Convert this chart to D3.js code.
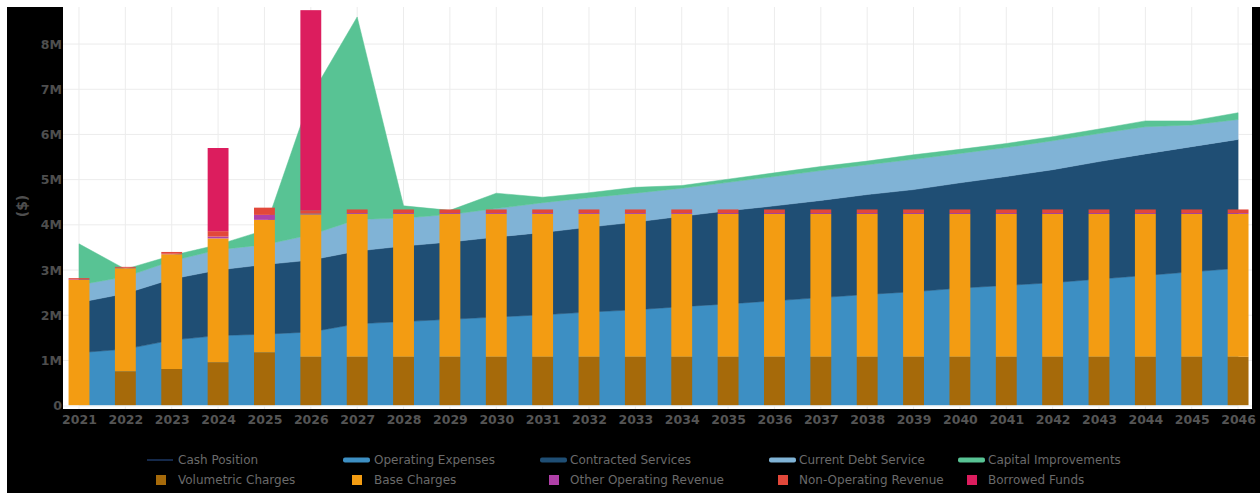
<!DOCTYPE html>
<html><head><meta charset="utf-8">
<script src="https://cdn.jsdelivr.net/npm/d3@7/dist/d3.min.js"></script>
<style>html,body{margin:0;padding:0;background:#fff;} svg{display:block}</style>
</head><body><svg id="chart" width="1260" height="493"></svg>
<script>
// ---------- DATA (values in $) ----------
const years = [2021,2022,2023,2024,2025,2026,2027,2028,2029,2030,2031,2032,2033,2034,2035,2036,2037,2038,2039,2040,2041,2042,2043,2044,2045,2046];
const operatingExpenses   = [1.17,1.25,1.45,1.55,1.58,1.63,1.81,1.86,1.91,1.96,2.01,2.07,2.12,2.19,2.25,2.32,2.39,2.46,2.52,2.60,2.66,2.72,2.80,2.88,2.96,3.04].map(v=>v*1e6);
const contractedServices  = [1.11,1.23,1.35,1.45,1.54,1.59,1.61,1.67,1.71,1.77,1.82,1.88,1.94,2.00,2.06,2.10,2.15,2.21,2.26,2.33,2.41,2.50,2.60,2.69,2.77,2.85].map(v=>v*1e6);
const currentDebtService  = [0.39,0.37,0.40,0.45,0.44,0.56,0.70,0.62,0.61,0.63,0.66,0.65,0.64,0.62,0.63,0.65,0.66,0.66,0.67,0.65,0.64,0.64,0.62,0.60,0.48,0.44].map(v=>v*1e6);
const capitalImprovements = [0.91,0.17,0.12,0.11,0.32,3.07,4.48,0.27,0.09,0.34,0.12,0.11,0.13,0.06,0.07,0.08,0.09,0.08,0.10,0.09,0.09,0.09,0.10,0.13,0.09,0.15].map(v=>v*1e6);
const volumetricCharges   = [0.00,0.76,0.81,0.96,1.18,1.08,1.08,1.08,1.08,1.08,1.08,1.08,1.08,1.08,1.08,1.08,1.08,1.08,1.08,1.08,1.08,1.08,1.08,1.08,1.08,1.08].map(v=>v*1e6);
const baseCharges         = [2.78,2.28,2.54,2.74,2.93,3.15,3.16,3.16,3.16,3.16,3.16,3.16,3.16,3.16,3.16,3.16,3.16,3.16,3.16,3.16,3.16,3.16,3.16,3.16,3.16,3.16].map(v=>v*1e6);
const otherOperatingRevenue = [0.01,0.01,0.01,0.04,0.11,0.02,0.02,0.02,0.02,0.02,0.02,0.02,0.02,0.02,0.02,0.02,0.02,0.02,0.02,0.02,0.02,0.02,0.02,0.02,0.02,0.02].map(v=>v*1e6);
const nonOperatingRevenue = [0.03,0.02,0.04,0.12,0.16,0.07,0.08,0.08,0.08,0.08,0.08,0.08,0.08,0.08,0.08,0.08,0.08,0.08,0.08,0.08,0.08,0.08,0.08,0.08,0.08,0.08].map(v=>v*1e6);
const borrowedFunds       = [0,0,0,1.84,0,4.43,0,0,0,0,0,0,0,0,0,0,0,0,0,0,0,0,0,0,0,0].map(v=>v*1e6);
const yTickValues = [0,1e6,2e6,3e6,4e6,5e6,6e6,7e6,8e6];
const yTickLabels = ["0","1M","2M","3M","4M","5M","6M","7M","8M"];
const yAxisTitle = "($)";

const areaKeys = ["Operating Expenses","Contracted Services","Current Debt Service","Capital Improvements"];
const areaValues = [operatingExpenses, contractedServices, currentDebtService, capitalImprovements];
const barKeys = ["Volumetric Charges","Base Charges","Other Operating Revenue","Non-Operating Revenue","Borrowed Funds"];
const barValues = [volumetricCharges, baseCharges, otherOperatingRevenue, nonOperatingRevenue, borrowedFunds];
const legendRow1 = ["Cash Position","Operating Expenses","Contracted Services","Current Debt Service","Capital Improvements"];
const legendRow2 = ["Volumetric Charges","Base Charges","Other Operating Revenue","Non-Operating Revenue","Borrowed Funds"];

// ---------- STYLE ----------
const colors = {
  "Cash Position":"#15294a",
  "Operating Expenses":"#3d8fc3",
  "Contracted Services":"#1f4e74",
  "Current Debt Service":"#80b3d6",
  "Capital Improvements":"#58c394",
  "Volumetric Charges":"#a66a0a",
  "Base Charges":"#f39c12",
  "Other Operating Revenue":"#b040a8",
  "Non-Operating Revenue":"#e2483a",
  "Borrowed Funds":"#dc1d5e"
};
const P = {left:63, right:1252, top:7, bottom:409};
const FONT = "'DejaVu Sans', Verdana, sans-serif";

const svg = d3.select("#chart");
svg.append("rect").attr("x",7).attr("y",7).attr("width",1253).attr("height",486).attr("fill","#000");
svg.append("rect").attr("x",P.left).attr("y",0).attr("width",P.right-P.left).attr("height",P.bottom).attr("fill","#fff");

const x = d3.scaleLinear().domain([2020.655, 2046.3]).range([P.left, P.right]);
const y = d3.scaleLinear().domain([-0.075e6, 8.82e6]).range([P.bottom, P.top]);

// grid
const g = svg.append("g");
g.selectAll("line.vg").data(years).join("line")
  .attr("x1",d=>x(d)).attr("x2",d=>x(d)).attr("y1",P.top).attr("y2",P.bottom)
  .attr("stroke","#ececec").attr("stroke-width",1);
g.selectAll("line.hg").data(yTickValues.slice(1)).join("line")
  .attr("x1",P.left).attr("x2",P.right).attr("y1",d=>y(d)).attr("y2",d=>y(d))
  .attr("stroke","#ececec").attr("stroke-width",1);

// tables
const areaTable = years.map((yr,i)=>{const o={year:yr}; areaKeys.forEach((k,j)=>o[k]=areaValues[j][i]); return o;});
const barTable  = years.map((yr,i)=>{const o={year:yr}; barKeys.forEach((k,j)=>o[k]=barValues[j][i]); return o;});

const areaStack = d3.stack().keys(areaKeys)(areaTable);
const area = d3.area().x(d=>x(d.data.year)).y0(d=>y(d[0])).y1(d=>y(d[1]));
svg.append("g").selectAll("path").data(areaStack).join("path")
  .attr("d",area).attr("fill",d=>colors[d.key]).attr("stroke",d=>colors[d.key]).attr("stroke-width",0.5);

const barStack = d3.stack().keys(barKeys)(barTable);
const bw = 0.45;
svg.append("g").selectAll("g").data(barStack).join("g")
  .attr("fill",d=>colors[d.key])
  .selectAll("rect").data(d=>d.filter(s=>s[1]-s[0]>0)).join("rect")
  .attr("x",d=>x(d.data.year-bw/2)).attr("width",d=>x(d.data.year+bw/2)-x(d.data.year-bw/2))
  .attr("y",d=>y(d[1])).attr("height",d=>y(d[0])-y(d[1]));

// zero line
svg.append("line").attr("x1",P.left).attr("x2",P.right).attr("y1",y(0)+0.5).attr("y2",y(0)+0.5)
  .attr("stroke","#f4f4f4").attr("stroke-width",1.5);

// axes
const xAxis = d3.axisBottom(x).tickValues(years).tickFormat(d3.format("d")).tickSize(0).tickPadding(6);
const xg = svg.append("g").attr("transform",`translate(0,${P.bottom})`).call(xAxis);
xg.select(".domain").remove();
xg.selectAll("text").attr("fill","#555").style("font-family",FONT).style("font-size","12.5px").style("font-weight","bold");

const yAxis = d3.axisLeft(y).tickValues(yTickValues).tickFormat((d,i)=>yTickLabels[i]).tickSize(0).tickPadding(1);
const yg = svg.append("g").attr("transform",`translate(${P.left},0)`).call(yAxis);
yg.select(".domain").remove();
yg.selectAll("text").attr("fill","#4e4e4e").style("font-family",FONT).style("font-size","12.5px").style("font-weight","bold");

svg.append("text").attr("transform","translate(22,206) rotate(-90)")
  .attr("text-anchor","middle").attr("dy","0.35em")
  .attr("fill","#4e4e4e").style("font-family",FONT).style("font-size","14px").style("font-weight","bold")
  .text(yAxisTitle);

// legend
const colX = [147, 343, 540, 769, 958];
const textX = [178, 374, 570, 799, 988];
const lg = svg.append("g");
legendRow1.forEach((name,i)=>{
  const cy = 460;
  if (name==="Cash Position") {
    lg.append("line").attr("x1",colX[i]).attr("x2",colX[i]+26).attr("y1",cy).attr("y2",cy)
      .attr("stroke",colors[name]).attr("stroke-width",2);
  } else {
    lg.append("rect").attr("x",colX[i]).attr("y",cy-2.5).attr("width",27).attr("height",5).attr("rx",2)
      .attr("fill",colors[name]);
  }
  lg.append("text").attr("x",textX[i]).attr("y",cy).attr("dy","0.35em").attr("fill","#6a6a6a")
    .style("font-family",FONT).style("font-size","12px").text(name);
});
legendRow2.forEach((name,i)=>{
  const cy = 480;
  lg.append("rect").attr("x",colX[i]+9).attr("y",cy-5).attr("width",10).attr("height",10)
    .attr("fill",colors[name]);
  lg.append("text").attr("x",textX[i]).attr("y",cy).attr("dy","0.35em").attr("fill","#6a6a6a")
    .style("font-family",FONT).style("font-size","12px").text(name);
});
</script></body></html>
